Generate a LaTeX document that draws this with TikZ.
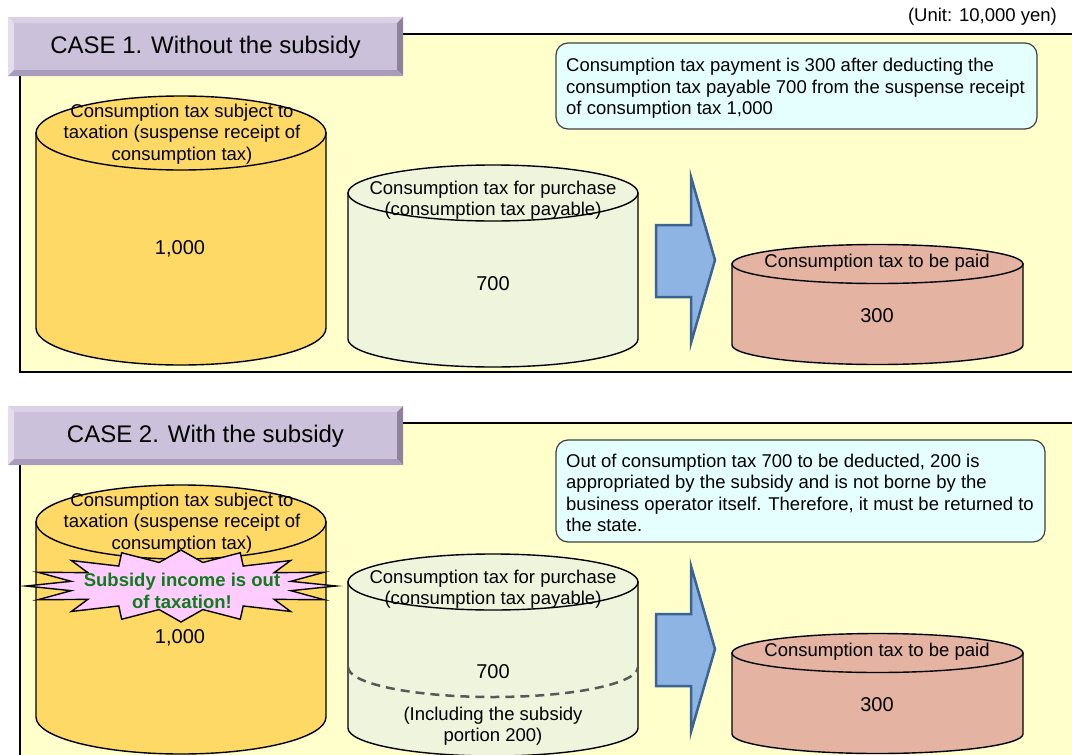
\documentclass[tikz,border=0pt]{standalone}
\usepackage{fontspec}
\setmainfont{Liberation Sans}
\usetikzlibrary{positioning}

\definecolor{panelyellow}{HTML}{FFFFCC}
\definecolor{headface}{HTML}{CCC1DA}
\definecolor{headtop}{HTML}{DAD1E5}
\definecolor{headleft}{HTML}{E4DEEC}
\definecolor{headright}{HTML}{8E819E}
\definecolor{headbottom}{HTML}{A99BBC}
\definecolor{drumgold}{HTML}{FFD966}
\definecolor{drumgreen}{HTML}{EFF4DC}
\definecolor{drumred}{HTML}{E5B3A1}
\definecolor{arrowblue}{HTML}{8DB4E2}
\definecolor{arrowline}{HTML}{3B6395}
\definecolor{notecyan}{HTML}{E5FFFF}
\definecolor{burstpink}{HTML}{FFCCFF}
\definecolor{burstgreen}{HTML}{127A1C}

\tikzset{
  panel/.style={draw=black, line width=1.5pt, fill=panelyellow},
  drumline/.style={draw=black, line width=1.4pt},
  drumtext/.style={font=\fontsize{18.5}{21.5}\selectfont, align=center, inner sep=0pt},
  drumnum/.style={font=\fontsize{20}{24}\selectfont, inner sep=0pt},
  headtext/.style={font=\fontsize{24}{28}\selectfont, inner sep=0pt},
  notebox/.style={draw=black!75, line width=1.2pt, fill=notecyan, rounded corners=12pt},
  notetext/.style={anchor=west, align=left, inner sep=0pt, font=\fontsize{18.5}{21.5}\selectfont},
  bigarrow/.style={draw=arrowline, line width=2.5pt, fill=arrowblue, line join=miter},
  burstline/.style={draw=black, line width=1.4pt, fill=burstpink},
}

% drum: centre x, top y, bottom y, x radius, y radius, colour
\newcommand{\taxdrum}[6]{%
  \filldraw[drumline, fill=#6] (#1-#4,#2) -- (#1-#4,#3)
    arc[start angle=180, end angle=0, x radius=#4, y radius=#5] -- (#1+#4,#2) -- cycle;
  \filldraw[drumline, fill=#6] (#1,#2) ellipse[x radius=#4, y radius=#5];
}
% bevelled case heading: top y
\newcommand{\casebar}[1]{%
  \fill[headtop] (8,#1) -- (403,#1) -- (397,#1+6) -- (14,#1+6) -- cycle;
  \fill[headleft] (8,#1) -- (14,#1+6) -- (14,#1+53) -- (8,#1+59) -- cycle;
  \fill[headright] (403,#1) -- (403,#1+59) -- (397,#1+53) -- (397,#1+6) -- cycle;
  \fill[headbottom] (8,#1+59) -- (14,#1+53) -- (397,#1+53) -- (403,#1+59) -- cycle;
  \fill[headface] (14,#1+6) rectangle (397,#1+53);
}

\begin{document}
\begin{tikzpicture}[x=1pt, y=-1pt]
  \useasboundingbox (0,0) rectangle (1072,755);

  \node[anchor=east, font=\fontsize{18.5}{21.5}\selectfont, inner sep=0pt] (unit) at (1057,17) {(Unit: 10,000 yen)};

  % CASE 1
  \draw[panel] (20,34) rectangle (1090,372);
  \casebar{17}
  \node[headtext] (head1) at (205.5,47) {CASE 1. Without the subsidy};

  \taxdrum{181}{133}{328}{145}{37}{drumgold}
  \node[drumtext] (sales1) at (182,134) {Consumption tax subject to\\taxation (suspense receipt of\\consumption tax)};
  \node[drumnum] (salesval1) at (180,249) {1,000};

  \taxdrum{493}{193}{339}{145}{28}{drumgreen}
  \node[drumtext] (buy1) at (493,200) {Consumption tax for purchase\\(consumption tax payable)};
  \node[drumnum] (buyval1) at (493,284) {700};

  \draw[bigarrow] (656,225) -- (691,225) -- (691,177) -- (715,260) -- (691,343) -- (691,297) -- (656,297) -- cycle;

  \taxdrum{877.5}{264}{345}{145.5}{19.5}{drumred}
  \node[drumtext] (pay1) at (877,263) {Consumption tax to be paid};
  \node[drumnum] (payval1) at (877,316) {300};

  \draw[notebox] (556,43) rectangle (1037,129);
  \node[notetext] (note1) at (566,88.5) {Consumption tax payment is 300 after deducting the\\consumption tax payable 700 from the suspense receipt\\of consumption tax 1,000};

  % CASE 2
  \draw[panel] (20,423) rectangle (1090,790);
  \casebar{406}
  \node[headtext] (head2) at (205.5,436) {CASE 2. With the subsidy};

  \taxdrum{181}{522}{717}{145}{37}{drumgold}
  \node[drumtext] (sales2) at (182,523) {Consumption tax subject to\\taxation (suspense receipt of\\consumption tax)};
  \node[drumnum] (salesval2) at (180,638) {1,000};

  \draw[burstline] (336,586) \foreach \k in {1,...,31} {
      -- ({181+(155-43*mod(\k,2))*cos(\k*11.25)}, {586+(36-12*mod(\k,2))*sin(\k*11.25)})} -- cycle;
  \node[drumtext, font=\fontsize{18.5}{21.5}\selectfont\bfseries, text=burstgreen] (burst) at (182,591) {Subsidy income is out\\of taxation!};

  \taxdrum{493}{582}{728}{145}{28}{drumgreen}
  \draw[black!65, line width=2.5pt, dash pattern=on 9pt off 6pt] (348,667)
    arc[start angle=180, end angle=0, x radius=145, y radius=30];
  \node[drumtext] (buy2) at (493,589) {Consumption tax for purchase\\(consumption tax payable)};
  \node[drumnum] (buyval2) at (493,672) {700};
  \node[drumtext] (subpart) at (493,726) {(Including the subsidy\\portion 200)};

  \draw[bigarrow] (656,614) -- (691,614) -- (691,566) -- (715,649) -- (691,732) -- (691,686) -- (656,686) -- cycle;

  \taxdrum{877.5}{653}{734}{145.5}{19.5}{drumred}
  \node[drumtext] (pay2) at (877,652) {Consumption tax to be paid};
  \node[drumnum] (payval2) at (877,705) {300};

  \draw[notebox] (556,440) rectangle (1045,542);
  \node[notetext] (note2) at (566,493) {Out of consumption tax 700 to be deducted, 200 is\\appropriated by the subsidy and is not borne by the\\business operator itself. Therefore, it must be returned to\\the state.};
\end{tikzpicture}
\end{document}
